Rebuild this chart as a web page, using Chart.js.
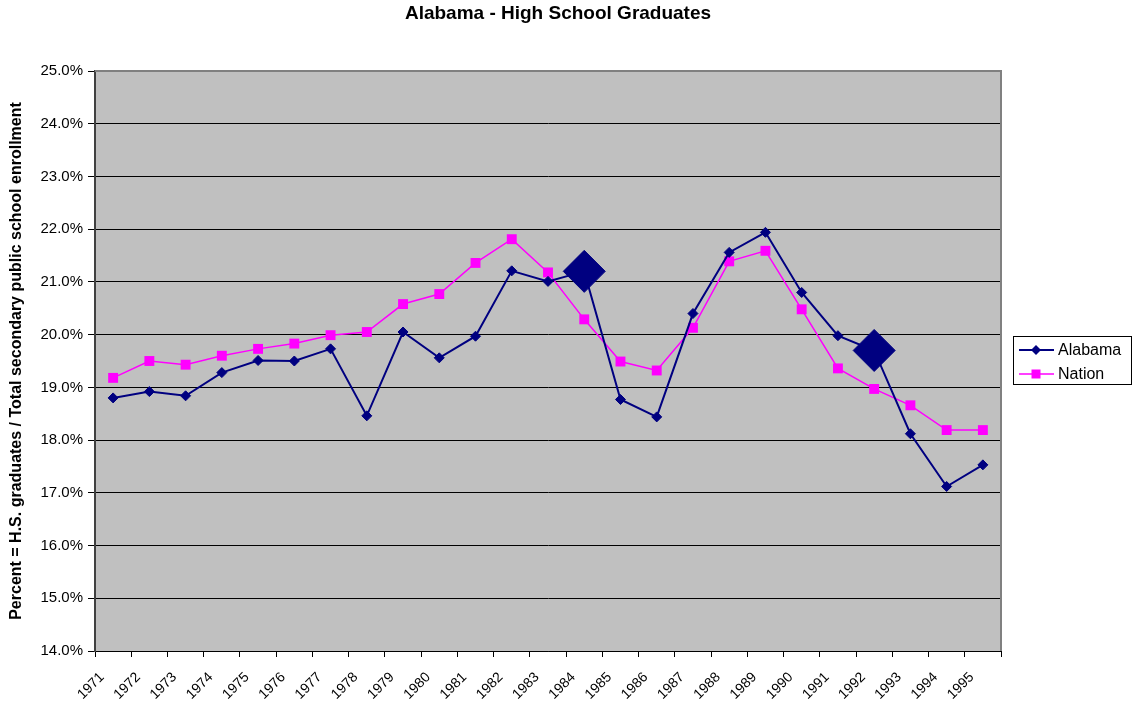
<html>
<head>
<style>
  body { margin: 0; background: #fff; }
</style>
</head>
<body>
<canvas id="myChart" width="1135" height="705"></canvas>
<script src="https://cdn.jsdelivr.net/npm/chart.js@4.4.1/dist/chart.umd.min.js"></script>
<script>
// years on the category axis
var years = ['1971','1972','1973','1974','1975','1976','1977','1978','1979','1980','1981','1982','1983',
             '1984','1985','1986','1987','1988','1989','1990','1991','1992','1993','1994','1995'];

// percent = H.S. graduates / total secondary public school enrollment
var alabama = [18.80, 18.92, 18.84, 19.28, 19.51, 19.50, 19.73, 18.46, 20.05, 19.56, 19.97, 21.21, 21.01,
               21.20, 18.77, 18.44, 20.40, 21.56, 21.94, 20.80, 19.98, 19.70, 18.12, 17.12, 17.53];
var nation  = [19.18, 19.50, 19.43, 19.60, 19.73, 19.83, 19.99, 20.05, 20.58, 20.77, 21.36, 21.81, 21.18,
               20.29, 19.49, 19.32, 20.13, 21.39, 21.59, 20.48, 19.36, 18.97, 18.66, 18.19, 18.19];

// years whose Alabama marker is drawn large
var highlighted = ['1984', '1992'];

var yTicks = { min: 14, max: 25, step: 1 };

var FONT = 'Arial, "Liberation Sans", sans-serif';

var alabamaRadius = years.map(function(y) {
  return highlighted.indexOf(y) >= 0 ? 21 : 5;
});

// grey plot area with its border
var plotBg = {
  id: 'plotBg',
  beforeDraw: function(chart) {
    var a = chart.chartArea, ctx = chart.ctx;
    ctx.save();
    ctx.fillStyle = '#c0c0c0';
    ctx.fillRect(a.left, a.top, a.right - a.left, a.bottom - a.top);
    ctx.restore();
  },
  afterDatasetsDraw: function(chart) {
    var a = chart.chartArea, ctx = chart.ctx;
    ctx.save();
    ctx.strokeStyle = '#808080';
    ctx.lineWidth = 2;
    ctx.beginPath();
    ctx.moveTo(a.left, a.top);
    ctx.lineTo(a.right, a.top);
    ctx.lineTo(a.right, a.bottom);
    ctx.stroke();
    ctx.restore();
  }
};

// title and boxed legend like the spreadsheet original
var extras = {
  id: 'extras',
  afterDraw: function(chart) {
    var ctx = chart.ctx;
    ctx.save();
    ctx.fillStyle = '#000';
    ctx.font = 'bold 19px ' + FONT;
    ctx.textAlign = 'center';
    ctx.textBaseline = 'middle';
    ctx.fillText('Alabama - High School Graduates', 558, 14);

    var bx = 1013.5, by = 336.5, bw = 118, bh = 48;
    ctx.fillStyle = '#fff';
    ctx.fillRect(bx, by, bw, bh);
    ctx.strokeStyle = '#000';
    ctx.lineWidth = 1;
    ctx.strokeRect(bx, by, bw, bh);

    chart.data.datasets.forEach(function(ds, i) {
      var yy = 350 + i * 24;
      ctx.strokeStyle = ds.borderColor;
      ctx.lineWidth = ds.borderWidth;
      ctx.beginPath();
      ctx.moveTo(1019, yy);
      ctx.lineTo(1054, yy);
      ctx.stroke();
      ctx.fillStyle = ds.backgroundColor;
      ctx.beginPath();
      if (ds.pointStyle === 'rect') {
        ctx.rect(1036 - 4.5, yy - 4.5, 9, 9);
      } else {
        ctx.moveTo(1036 - 5, yy);
        ctx.lineTo(1036, yy - 5);
        ctx.lineTo(1036 + 5, yy);
        ctx.lineTo(1036, yy + 5);
        ctx.closePath();
      }
      ctx.fill();
      ctx.fillStyle = '#000';
      ctx.font = '16px ' + FONT;
      ctx.textAlign = 'left';
      ctx.fillText(ds.label, 1058, yy + 1);
    });
    ctx.restore();
  }
};

var chart = new Chart(document.getElementById('myChart'), {
  type: 'line',
  data: {
    labels: years,
    datasets: [
      {
        label: 'Alabama',
        data: alabama,
        borderColor: '#000080',
        backgroundColor: '#000080',
        borderWidth: 2,
        pointStyle: 'rectRot',
        pointRadius: alabamaRadius,
        pointBorderWidth: 1,
        tension: 0
      },
      {
        label: 'Nation',
        data: nation,
        borderColor: '#ff00ff',
        backgroundColor: '#ff00ff',
        borderWidth: 1.5,
        pointStyle: 'rect',
        pointRadius: 7,
        pointBorderWidth: 0,
        tension: 0
      }
    ]
  },
  options: {
    responsive: false,
    animation: false,
    layout: { padding: { left: 0, top: 71, right: 134, bottom: 0 } },
    plugins: {
      legend: { display: false },
      title: { display: false },
      tooltip: { enabled: false }
    },
    scales: {
      x: {
        type: 'category',
        offset: true,
        grid: {
          offset: true,
          drawOnChartArea: false,
          drawTicks: true,
          tickLength: 6,
          color: '#000'
        },
        border: { color: '#000', width: 1 },
        ticks: {
          autoSkip: false,
          minRotation: 45,
          maxRotation: 45,
          labelOffset: -11,
          padding: 12,
          color: '#000',
          font: { family: FONT, size: 14 }
        },
        afterFit: function(scale) { scale.height = 54; }
      },
      y: {
        min: yTicks.min,
        max: yTicks.max,
        grid: {
          color: function(c) { return c.tick && c.tick.value === yTicks.max ? '#808080' : '#000'; },
          tickColor: '#000',
          tickLength: 7,
          lineWidth: 1
        },
        border: { color: '#404040', width: 2 },
        ticks: {
          stepSize: yTicks.step,
          padding: 5,
          color: '#000',
          font: { family: FONT, size: 15 },
          callback: function(v) { return v.toFixed(1) + '%'; }
        },
        title: {
          display: true,
          text: 'Percent = H.S. graduates / Total secondary public school enrollment',
          color: '#000',
          font: { family: FONT, size: 16, weight: 'bold' },
          padding: { top: 7, bottom: 0 }
        },
        afterFit: function(scale) { scale.width = 95; }
      }
    }
  },
  plugins: [plotBg, extras]
});
</script>
</body>
</html>
